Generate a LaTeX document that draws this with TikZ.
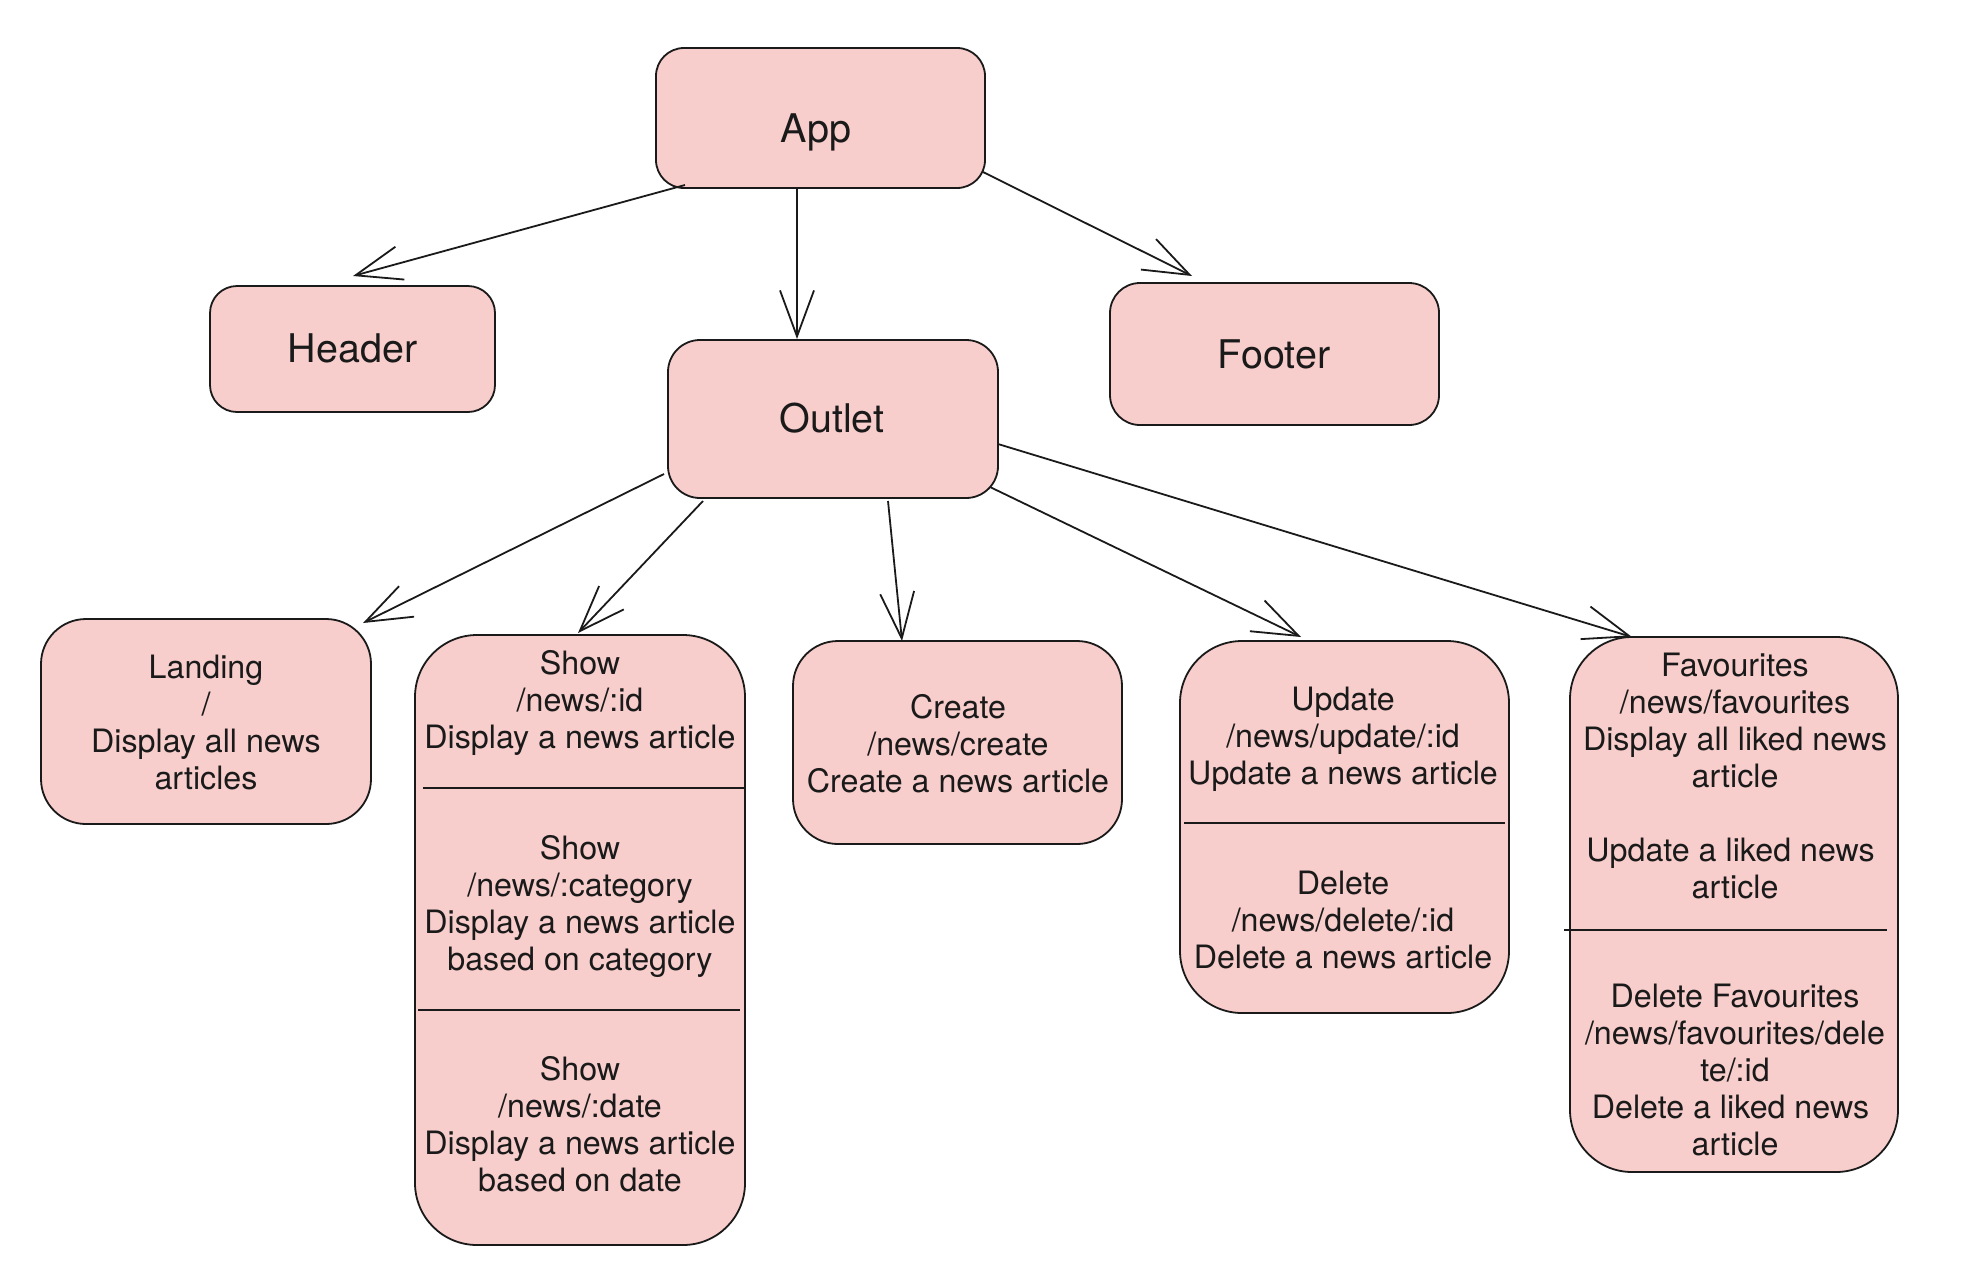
\documentclass[tikz,border=0pt]{standalone}
\usepackage{fontspec}
\setmainfont{TeX Gyre Heros}
\usetikzlibrary{arrows.meta,calc}
\definecolor{pinkfill}{HTML}{F8CECC}
\definecolor{ink}{HTML}{1A1A1A}
\begin{document}
\begin{tikzpicture}[x=1pt,y=-1pt,
  box/.style={draw=ink, fill=pinkfill, line width=1.8pt, inner sep=0pt, outer sep=0pt},
  big/.style={font=\fontsize{39.5}{47}\selectfont, text=ink, inner sep=0pt, anchor=base},
  small/.style={font=\fontsize{32.2}{37}\selectfont, text=ink, align=center, inner sep=0pt, anchor=north},
  divider/.style={draw=ink, line width=1.8pt},
  arr/.style={draw=ink, line width=1.8pt, -{Straight Barb[length=46pt,width=34pt]}}]
\useasboundingbox[fill=white] (0,0) rectangle (1970,1278);

% boxes
\node[box, rounded corners=28pt, minimum width=329pt, minimum height=140pt] (app) at (820.5,118) {};
\node[box, rounded corners=27pt, minimum width=285pt, minimum height=126pt] (hdr) at (352.5,349) {};
\node[box, rounded corners=30pt, minimum width=329pt, minimum height=142pt] (ftr) at (1274.5,354) {};
\node[box, rounded corners=32pt, minimum width=330pt, minimum height=158pt] (out) at (833,419) {};
\node[box, rounded corners=45pt, minimum width=330pt, minimum height=205pt] (land) at (206,721.5) {};
\node[box, rounded corners=62pt, minimum width=330pt, minimum height=610pt] (show) at (580,940) {};
\node[box, rounded corners=45pt, minimum width=329pt, minimum height=203pt] (create) at (957.5,742.5) {};
\node[box, rounded corners=62pt, minimum width=329pt, minimum height=372pt] (upd) at (1344.5,827) {};
\node[box, rounded corners=62pt, minimum width=328pt, minimum height=535pt] (fav) at (1734,904.5) {};

% dividers
\draw[divider] (423,788) -- (745,788);
\draw[divider] (418,1010) -- (740,1010);
\draw[divider] (1184,823) -- (1505,823);
\draw[divider] (1564,930) -- (1887,930);

% big labels
\node[big] (tapp) at (816,142) {App};
\node[big] (thdr) at (352.5,362) {Header};
\node[big] (tftr) at (1274,368) {Footer};
\node[big] (tout) at (832,432) {Outlet};

% small labels
\node[small] (tland) at (206,655) {Landing\\/\\Display all news\\articles};
\node[small] (tshow1) at (580,650) {Show\\/news/:id\\Display a news article};
\node[small] (tshow2) at (580,835) {Show\\/news/:category\\Display a news article\\based on category};
\node[small] (tshow3) at (580,1056) {Show\\/news/:date\\Display a news article\\based on date};
\node[small] (tcreate) at (958,694) {Create\\/news/create\\Create a news article};
\node[small] (tupd1) at (1343,687) {Update\\/news/update/:id\\Update a news article};
\node[small] (tupd2) at (1343,871) {Delete\\/news/delete/:id\\Delete a news article};
\node[small] (tfav1) at (1735,653) {Favourites\\/news/favourites\\Display all liked news\\article\\\mbox{}\\Update a liked news\kern0.278em\\article};
\node[small] (tfav2) at (1735,984) {Delete Favourites\\/news/favourites/dele\\te/:id\\Delete a liked news\kern0.278em\\article};

% connectors
\draw[arr] ($(app.south west)+(29,-3)$) -- ($(hdr.north)+(0.5,-10)$);
\draw[arr] ($(app.south)+(-23.5,1)$) -- ($(out.north)+(-36,-1)$);
\draw[arr] ($(app.south east)+(-2,-16)$) -- ($(ftr.north west)+(82,-7)$);
\draw[arr] ($(out.south west)+(-4,-24)$) -- ($(land.north east)+(-8,4)$);
\draw[arr] ($(out.south west)+(35,3)$) -- ($(show.north)+(-2,-2)$);
\draw[arr] ($(out.south)+(55,3)$) -- ($(create.north)+(-55.5,0)$);
\draw[arr] ($(out.south east)+(-8,-11)$) -- ($(upd.north)+(-43.5,-4)$);
\draw[arr] ($(out.east)+(0,25)$) -- ($(fav.north west)+(62,0)$);
\end{tikzpicture}
\end{document}
